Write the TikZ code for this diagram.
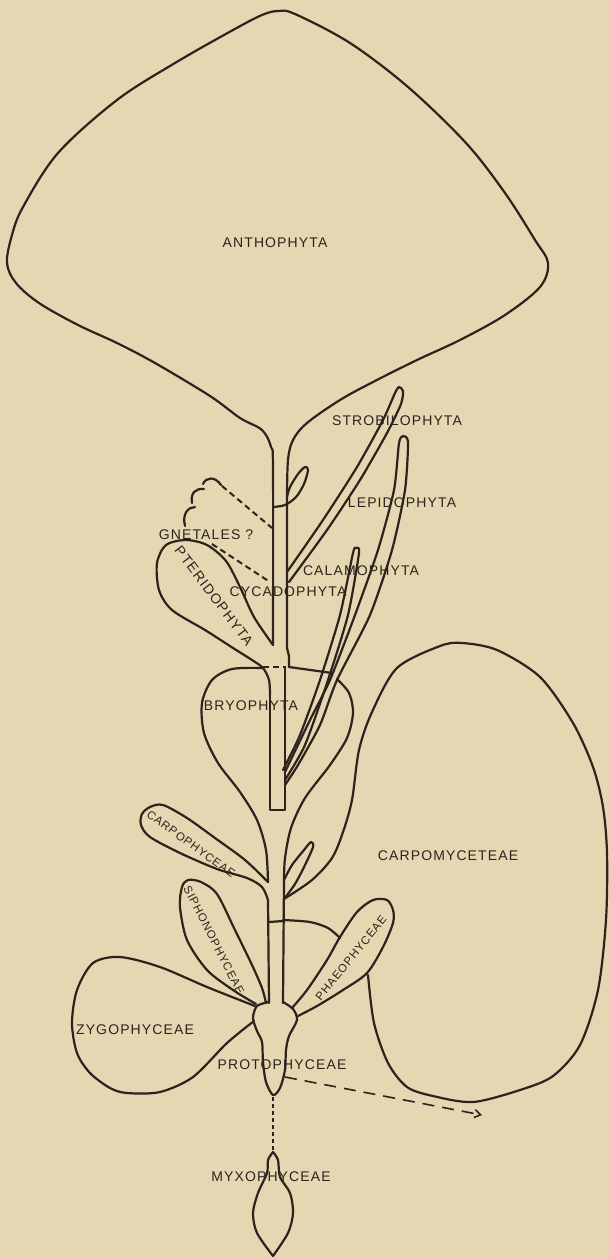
\documentclass[tikz,border=0pt]{standalone}
\usepackage{fontspec}
\newfontfamily\labelfont[LetterSpace=8]{Liberation Sans}
\usetikzlibrary{arrows.meta}
\definecolor{paper}{RGB}{228,215,178}
\definecolor{ink}{RGB}{45,35,28}

\begin{document}
\begin{tikzpicture}[x=1pt,y=-1pt,
  outline/.style={draw=ink,line width=2.2pt,line join=round,line cap=round},
  dashline/.style={draw=ink,line width=2pt,dash pattern=on 6pt off 4pt},
  lbl/.style={font=\labelfont\fontsize{14}{14}\selectfont,text=ink,inner sep=0pt},
  sml/.style={font=\labelfont\fontsize{11.5}{12}\selectfont,text=ink,inner sep=0pt}]

\fill[paper] (0,0) rectangle (609,1258);
\useasboundingbox (0,0) rectangle (609,1258);

% Anthophyta and the stem below it
\draw[outline] plot[smooth,tension=0.55] coordinates {(273,645) (273,470) (271,447) (262,430) (240,418) (210,396) (155,363) (117,343) (78,325) (39,303) (16,283) (7,263) (12,235) (23,207) (58,153) (117,100) (175,63) (233,30) (262,15) (278,11) (295,14) (350,43) (408,87) (466,143) (505,193) (535,240) (548,263) (540,287) (505,315) (460,340) (417,360) (373,382) (340,400) (307,423) (293,440) (288,460) (287,497)};
\draw[outline] (287,497) -- (287,648) -- (289,656) -- (289,667);
\draw[outline] plot[smooth] coordinates {(273,507) (285,505) (296,497) (304,484) (308,470) (305,467) (298,474) (290,487) (287,497)};

% Strobilophyta
\draw[outline] plot[smooth,tension=0.4] coordinates {(287,572) (323,520) (357,467) (383,420) (395,393) (399,387) (403,391) (401,404) (387,433) (360,480) (327,530) (289,582)};

% Lepidophyta and Calamophyta
\draw[outline] plot[smooth,tension=0.4] coordinates {(285,772) (310,720) (330,680) (355,615) (378,550) (394,490) (399,443) (403,436) (408,442) (405,490) (392,550) (370,615) (337,680) (320,725) (298,765) (285,785)};
\draw[outline] plot[smooth,tension=0.4] coordinates {(283,770) (300,735) (320,680) (340,615) (353,553) (356,548) (359,553) (348,615) (328,680) (305,745) (285,780)};

% Gnetales
\draw[outline] (185,526) .. controls (182,514) and (188,507) .. (195,507);
\draw[outline] (192,503) .. controls (190,493) and (196,488) .. (204,489);
\draw[outline] (203,484) .. controls (206,477) and (215,476) .. (221,485);
\coordinate (gnetcloud) at (222,486);
\coordinate (gnetstemA) at (272,528);
\coordinate (gnetlabel) at (212,544);
\coordinate (gnetstemB) at (270,582);
\draw[dashline] (gnetcloud) -- (gnetstemA);
\draw[dashline] (gnetlabel) -- (gnetstemB);

% Pteridophyta
\draw[outline] plot[smooth] coordinates {(273,645) (254,617) (240,587) (226,561) (207,545) (186,540) (166,545) (157,563) (159,590) (172,610) (205,630) (233,648) (252,660) (263,668) (269,680) (270,695)};
\draw[outline] (270,695) -- (270,810) -- (285,810) -- (285,668);
\draw[dashline] (263,667) -- (286,667);

% Bryophyta
\draw[outline] plot[smooth] coordinates {(263,668) (232,669) (212,680) (202,703) (204,733) (218,763) (240,792) (257,820) (266,850) (268,882)};
\draw[outline] (289,667) -- (332,673);
\draw[outline] plot[smooth] coordinates {(337,679) (349,693) (353,713) (347,738) (330,765) (305,798) (291,828) (285,858) (284,880)};

% Carpophyceae
\draw[outline] plot[smooth] coordinates {(268,882) (245,860) (215,838) (187,818) (163,805) (150,807) (142,814) (141,825) (150,837) (180,853) (217,869) (247,878) (262,887) (268,900)};

% stem down to Protophyceae
\draw[outline] (268,900) -- (269,1003);
\draw[outline] (284,880) -- (283,1003);
\draw[outline] (269,922) -- (283,921);

% Carpomyceteae
\draw[outline] plot[smooth] coordinates {(284,880) (292,865) (304,850) (311,842) (313,847) (305,865) (295,884) (284,899)};
\draw[outline] plot[smooth] coordinates {(284,899) (312,880) (332,858) (343,832) (352,800) (359,750) (372,712) (397,668) (440,646) (462,643) (497,650) (540,677) (573,723) (593,767) (603,807) (607,853) (606,920) (598,990) (580,1045) (553,1076) (520,1090) (473,1102) (433,1096) (407,1087) (388,1063) (374,1023) (368,975)};
\draw[outline] plot[smooth] coordinates {(283,920) (310,922) (328,928) (340,938)};

% Phaeophyceae
\draw[outline] plot[smooth] coordinates {(292,1008) (307,990) (327,960) (340,937) (357,912) (373,900) (387,900) (393,910) (393,923) (383,947) (367,973) (343,990) (317,1006) (298,1016)};

% Siphonophyceae
\draw[outline] plot[smooth] coordinates {(266,1003) (262,988) (252,965) (234,928) (217,894) (201,882) (188,880) (182,887) (180,907) (187,940) (207,970) (233,990) (256,1004)};

% Protophyceae
\draw[outline] plot[smooth] coordinates {(269,1002) (257,1006) (253,1018) (257,1031) (262,1042) (263,1062) (266,1082) (273,1095) (280,1088) (285,1070) (286,1050) (289,1036) (297,1020) (293,1009) (283,1002)};

% Zygophyceae
\draw[outline] plot[smooth] coordinates {(255,1006) (207,987) (160,967) (120,957) (93,963) (77,990) (72,1023) (77,1053) (90,1073) (110,1088) (127,1093) (160,1092) (193,1077) (227,1043) (254,1021)};

% Myxophyceae
\coordinate (prototip) at (273,1097);
\coordinate (myxotop) at (273,1150);
\draw[draw=ink,line width=2.2pt,dash pattern=on 4pt off 3pt] (prototip) -- (myxotop);
\draw[outline] plot[smooth] coordinates {(273,1152) (268,1160) (267,1173) (258,1193) (253,1213) (257,1233) (273,1256)};
\draw[outline] plot[smooth] coordinates {(273,1152) (278,1160) (280,1177) (290,1193) (293,1213) (288,1233) (273,1256)};

% side arrow
\coordinate (protoside) at (285,1077);
\coordinate (arrowend) at (482,1115);
\draw[draw=ink,line width=1.6pt,dash pattern=on 12pt off 8pt,-{Straight Barb[length=6pt,width=8pt]}] (protoside) -- (arrowend);

% labels
\node[lbl] (antho) at (275,243) {ANTHOPHYTA};
\node[lbl] (strobilo) at (397,421) {STROBILOPHYTA};
\node[lbl] (lepido) at (402,503) {LEPIDOPHYTA};
\node[lbl] (gnetales) at (206,535) {GNETALES ?};
\node[lbl] (calamo) at (361,571) {CALAMOPHYTA};
\node[lbl] (cycado) at (288,592) {CYCADOPHYTA};
\node[lbl,rotate=-53] (pterido) at (214,596) {PTERIDOPHYTA};
\node[lbl] (bryo) at (251,706) {BRYOPHYTA};
\node[sml,rotate=-36] (carpophy) at (191,844) {CARPOPHYCEAE};
\node[lbl] (carpomyc) at (448,856) {CARPOMYCETEAE};
\node[sml,rotate=-63] (siphono) at (214,940) {SIPHONOPHYCEAE};
\node[sml,rotate=51] (phaeo) at (351,958) {PHAEOPHYCEAE};
\node[lbl] (zygo) at (135,1030) {ZYGOPHYCEAE};
\node[lbl] (proto) at (282,1065) {PROTOPHYCEAE};
\node[lbl] (myxo) at (271,1177) {MYXOPHYCEAE};
\end{tikzpicture}
\end{document}
